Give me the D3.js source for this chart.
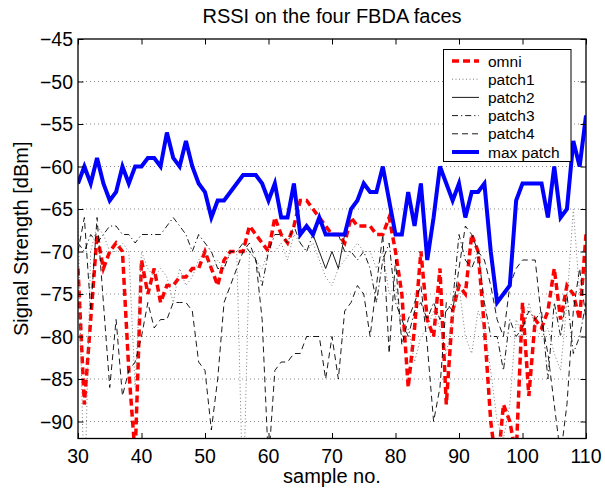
<!DOCTYPE html>
<html>
<head>
<meta charset="utf-8">
<script src="https://cdnjs.cloudflare.com/ajax/libs/d3/7.8.5/d3.min.js"></script>
<style>
  html, body { margin: 0; padding: 0; background: #fff; }
  svg { display: block; font-family: "Liberation Sans", Arial, Helvetica, sans-serif; }
</style>
</head>
<body>
<svg id="chart" width="605" height="488"></svg>
<script>
const samples = [30,31,32,33,34,35,36,37,38,39,40,41,42,43,44,45,46,47,48,49,50,51,52,53,54,55,56,57,58,59,60,61,62,63,64,65,66,67,68,69,70,71,72,73,74,75,76,77,78,79,80,81,82,83,84,85,86,87,88,89,90,91,92,93,94,95,96,97,98,99,100,101,102,103,104,105,106,107,108,109,110];

const omni = [-72,-88,-78,-68,-72,-70,-69,-70,-84,-94,-71,-75,-72,-76,-74,-74,-73,-73,-72,-72,-70,-72,-74,-71,-70,-70,-70,-67,-68,-69,-70,-66,-68,-69,-67,-64,-64,-65,-66,-67,-68,-68,-69,-66,-67,-67,-67,-68,-68,-66,-70,-75,-86,-79,-70,-78,-80,-72,-88,-77,-74,-75,-68,-70,-79,-90,-96,-88,-90,-94,-76,-87,-78,-79,-77,-72,-78,-74,-75,-78,-68];

const patch1 = [-66,-100,-70,-67,-68,-70,-70,-69,-70,-86,-70,-72,-73,-72,-73,-76,-72,-74,-73,-71,-70,-72,-71,-72,-70,-70,-100,-70,-71,-72,-70,-70,-69,-71,-68,-69,-70,-69,-71,-73,-74,-72,-71,-70,-69,-70,-70,-72,-70,-75,-74,-80,-79,-83,-80,-79,-77,-79,-82,-78,-74,-80,-82,-77,-79,-84,-90,-92,-88,-78,-80,-76,-79,-80,-79,-82,-84,-76,-65,-75,-72];

const patch2 = [-62,-60,-62,-59,-62,-64,-63,-60,-62,-60,-60,-59,-59,-60,-56,-59,-60,-57,-60,-62,-63,-66,-64,-64,-63,-62,-61,-61,-61,-62,-64,-62,-66,-66,-62,-68,-67,-68,-70,-72,-70,-72,-68,-65,-64,-62,-63,-63,-60,-64,-68,-68,-63,-67,-62,-71,-66,-60,-62,-64,-62,-66,-63,-63,-62,-70,-76,-75,-74,-64,-62,-62,-62,-62,-66,-60,-66,-65,-57,-60,-54];

const patch3 = [-69,-70,-68,-69,-68,-67,-67,-68,-68,-69,-68,-68,-68,-68,-67,-66,-67,-68,-70,-68,-69,-70,-72,-72,-70,-70,-69,-70,-71,-74,-70,-68,-68,-69,-67,-69,-70,-68,-66,-68,-68,-68,-70,-70,-71,-70,-72,-76,-71,-69,-76,-78,-80,-77,-76,-78,-76,-78,-77,-76,-68,-71,-72,-70,-76,-80,-80,-84,-78,-80,-79,-77,-78,-77,-85,-76,-80,-75,-82,-80,-76];

const patch4 = [-70,-66,-77,-66,-76,-86,-78,-87,-84,-83,-80,-76,-79,-78,-78,-76,-76,-76,-77,-83,-84,-91,-85,-76,-74,-72,-70,-69,-71,-78,-95,-84,-83,-83,-82,-82,-80,-80,-80,-85,-80,-85,-77,-76,-74,-75,-80,-74,-68,-82,-71,-81,-78,-76,-74,-81,-90,-86,-76,-77,-72,-67,-68,-70,-71,-74,-78,-80,-74,-72,-71,-71,-71,-78,-82,-88,-94,-88,-77,-72,-78];

const maxPatch = [-62,-60,-62,-59,-62,-64,-63,-60,-62,-60,-60,-59,-59,-60,-56,-59,-60,-57,-60,-62,-63,-66,-64,-64,-63,-62,-61,-61,-61,-62,-64,-62,-66,-66,-62,-68,-67,-68,-66,-68,-68,-68,-68,-65,-64,-62,-63,-63,-60,-64,-68,-68,-63,-67,-62,-71,-66,-60,-62,-64,-62,-66,-63,-63,-62,-70,-76,-75,-74,-64,-62,-62,-62,-62,-66,-60,-66,-65,-57,-60,-54];

const xTicks = [30,40,50,60,70,80,90,100,110];
const yTicks = [-90,-85,-80,-75,-70,-65,-60,-55,-50,-45];
const seriesNames = ["omni","patch1","patch2","patch3","patch4","max patch"];
const titleText = "RSSI on the four FBDA faces";
const xLabelText = "sample no.";
const yLabelText = "Signal Strength [dBm]";

const W = 605, H = 488;
const margin = {left: 78, right: 19, top: 39, bottom: 49.5};
const x = d3.scaleLinear().domain([30,110]).range([margin.left, W - margin.right]);
const y = d3.scaleLinear().domain([-92,-45]).range([H - margin.bottom, margin.top]);

const svg = d3.select("#chart");
const fmt = v => (v < 0 ? "\u2212" + Math.abs(v) : String(v));

svg.append("defs").append("clipPath").attr("id","plotclip")
  .append("rect").attr("x", x(30)).attr("y", y(-45)).attr("width", x(110)-x(30)).attr("height", y(-92)-y(-45));

// grid
svg.append("g").selectAll("line").data(yTicks.filter(t => t > -92 && t < -45)).join("line")
  .attr("x1", x(30)).attr("x2", x(110)).attr("y1", d => y(d)).attr("y2", d => y(d))
  .attr("stroke", "#8a8a8a").attr("stroke-width", 1).attr("stroke-dasharray", "1,3");

const styles = [
  {data: omni, stroke: "#ff0000", width: 3.5, dash: "7,4"},
  {data: patch1, stroke: "#7a7a7a", width: 1, dash: "1,2.5"},
  {data: patch2, stroke: "#000", width: 0.9, dash: null},
  {data: patch3, stroke: "#000", width: 0.9, dash: "6,3,1.2,3"},
  {data: patch4, stroke: "#000", width: 0.9, dash: "6,4"},
  {data: maxPatch, stroke: "#0000ff", width: 4, dash: null}
];

const line = d3.line().x((d,i) => x(samples[i])).y(d => y(d));
const plotG = svg.append("g").attr("clip-path", "url(#plotclip)");
styles.forEach(s => {
  plotG.append("path").datum(s.data)
    .attr("d", line)
    .attr("fill", "none")
    .attr("stroke", s.stroke)
    .attr("stroke-width", s.width)
    .attr("stroke-dasharray", s.dash)
    .attr("stroke-linejoin", "miter");
});

// axes box with inward ticks
const tl = 5.5;
const axG = svg.append("g");
const xb = d3.axisBottom(x).tickValues(xTicks).tickSize(-tl).tickFormat("");
const xt = d3.axisTop(x).tickValues(xTicks).tickSize(-tl).tickFormat("");
const yl = d3.axisLeft(y).tickValues(yTicks).tickSize(-tl).tickFormat("");
const yr = d3.axisRight(y).tickValues(yTicks).tickSize(-tl).tickFormat("");
axG.append("g").attr("transform", `translate(0,${y(-92)})`).call(xb);
axG.append("g").attr("transform", `translate(0,${y(-45)})`).call(xt);
axG.append("g").attr("transform", `translate(${x(30)},0)`).call(yl);
axG.append("g").attr("transform", `translate(${x(110)},0)`).call(yr);
axG.selectAll(".domain").remove();
axG.selectAll(".tick line").attr("stroke", "#000").attr("stroke-width", 1);
svg.append("rect").attr("x", x(30)).attr("y", y(-45)).attr("width", x(110)-x(30)).attr("height", y(-92)-y(-45))
  .attr("fill", "none").attr("stroke", "#000").attr("stroke-width", 1.3);

// tick labels
svg.append("g").selectAll("text").data(xTicks).join("text")
  .attr("x", d => x(d)).attr("y", 463).attr("text-anchor", "middle")
  .attr("font-size", 19.5).text(d => fmt(d));
svg.append("g").selectAll("text").data(yTicks).join("text")
  .attr("x", 73).attr("y", d => y(d)).attr("dy", "0.36em").attr("text-anchor", "end")
  .attr("font-size", 19.5).text(d => fmt(d));

// title & labels
svg.append("text").attr("x", (x(30)+x(110))/2).attr("y", 23).attr("text-anchor", "middle")
  .attr("font-size", 20).text(titleText);
svg.append("text").attr("x", (x(30)+x(110))/2).attr("y", 483).attr("text-anchor", "middle")
  .attr("font-size", 20).text(xLabelText);
svg.append("text").attr("transform", `translate(28,${(y(-45)+y(-92))/2}) rotate(-90)`)
  .attr("text-anchor", "middle").attr("font-size", 20).text(yLabelText);

// legend
const lg = svg.append("g");
lg.append("rect").attr("x", 443.5).attr("y", 49.5).attr("width", 127.5).attr("height", 112)
  .attr("fill", "#fff").attr("stroke", "#000").attr("stroke-width", 1);
seriesNames.forEach((name, i) => {
  const cy = 61 + i * 18.2;
  const s = styles[i];
  lg.append("line").attr("x1", 452).attr("x2", 479).attr("y1", cy).attr("y2", cy)
    .attr("stroke", s.stroke).attr("stroke-width", s.width).attr("stroke-dasharray", s.dash);
  lg.append("text").attr("x", 488).attr("y", cy).attr("dy", "0.36em")
    .attr("font-size", 15.5).text(name);
});
</script>
</body>
</html>
